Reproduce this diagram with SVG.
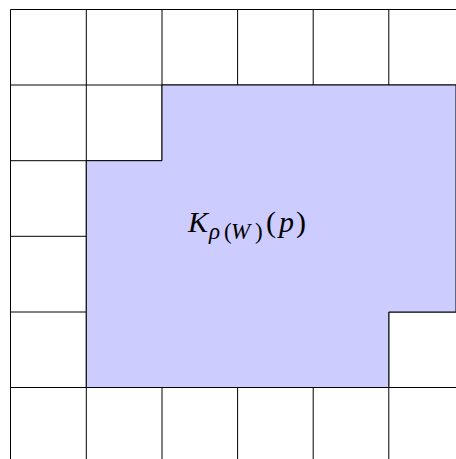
<svg xmlns="http://www.w3.org/2000/svg" width="456" height="459" viewBox="0 0 456 459">
<style>
.g{stroke:#000;stroke-width:1;fill:none}
.r{fill:#ccccff;stroke:#000;stroke-width:1}
.t{font-family:"Liberation Serif","Times New Roman",serif;font-size:30px;fill:#000}
.s{font-size:23px}
.i{font-style:italic}
</style>
<rect width="456" height="459" fill="#fff"/>
<g id="grid" class="g">
<path d="M10.5 9.5H456M10.5 85H456M10.5 160.7H456M10.5 236.3H456M10.5 312H456M10.5 387.5H456"/>
<path d="M10.5 9.5V459M86.3 9.5V459M162 9.5V459M237.6 9.5V459M313.2 9.5V459M388.8 9.5V459"/>
</g>
<g id="region">
<polygon class="r" points="162,85 456,85 456,312 388.8,312 388.8,387.5 86.3,387.5 86.3,160.7 162,160.7"/>
<text class="t"><tspan class="i" x="188" y="232">K</tspan><tspan class="s i" x="209" y="239">ρ</tspan><tspan class="s" x="224" y="239">(</tspan><tspan class="s i" x="231" y="239">W</tspan><tspan class="s" x="255" y="239">)</tspan><tspan x="266" y="232">(</tspan><tspan class="i" x="279" y="232">p</tspan><tspan x="296" y="232">)</tspan></text>
</g>
</svg>
